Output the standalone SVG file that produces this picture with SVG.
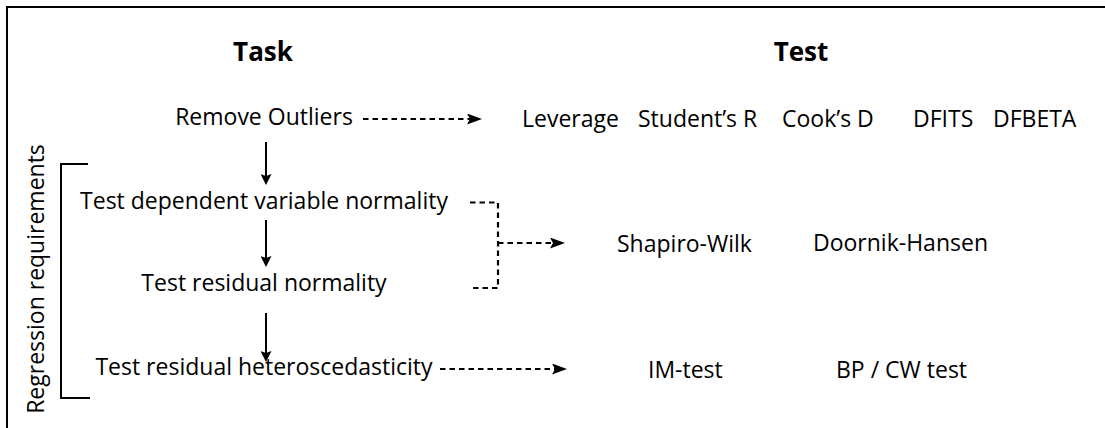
<svg xmlns="http://www.w3.org/2000/svg" width="1105" height="428" viewBox="0 0 1105 428">
<style>
text{font-family:"Open Sans","Liberation Sans",sans-serif;font-size:23px;fill:#000}
.h{font-weight:700;font-size:26px}
.c{text-anchor:middle}
.ln{stroke:#000;stroke-width:2;fill:none}
.ds{stroke-dasharray:5.5 4;stroke-width:2.2}
</style>
<defs>
<marker id="ah" viewBox="0 0 15 11" refX="3" refY="5.5" markerWidth="15" markerHeight="11" markerUnits="userSpaceOnUse" orient="auto"><path d="M0,0 L15,5.5 L0,11 L3,5.5 Z" fill="#000"/></marker>
<marker id="ahs" viewBox="0 0 11 11" refX="2" refY="5.5" markerWidth="11" markerHeight="11" markerUnits="userSpaceOnUse" orient="auto"><path d="M0,0 L11,5.5 L0,11 L2,5.5 Z" fill="#000"/></marker>
</defs>
<rect width="1105" height="428" fill="#fff"/>
<g id="frame"><path class="ln" d="M7,428 V7 H1105" stroke-width="2.4"/></g>
<g id="task-header"><text class="h c" x="263" y="61">Task</text></g>
<g id="test-header"><text class="h c" x="801" y="61">Test</text></g>
<g id="remove-outliers"><text class="c" x="264" y="125">Remove Outliers</text></g>
<g id="outlier-tests">
<text x="522" y="127">Leverage</text>
<text x="638" y="127">Student’s R</text>
<text x="782" y="127">Cook’s D</text>
<text x="913" y="127">DFITS</text>
<text x="993" y="127">DFBETA</text>
</g>
<g id="regression-requirements">
<path class="ln" d="M88,164 H61 V398 H90" stroke-width="1.8"/>
<text class="c" transform="translate(44,279) rotate(-90)">Regression requirements</text>
</g>
<g id="test-dependent"><text class="c" x="264" y="209">Test dependent variable normality</text></g>
<g id="test-residual-normality"><text class="c" x="264" y="291">Test residual normality</text></g>
<g id="test-residual-hetero"><text class="c" x="264" y="375">Test residual heteroscedasticity</text></g>
<g id="normality-tests">
<text x="617" y="252">Shapiro-Wilk</text>
<text x="813" y="251">Doornik-Hansen</text>
</g>
<g id="hetero-tests">
<text x="648" y="378">IM-test</text>
<text x="836" y="378">BP / CW test</text>
</g>
<g id="connectors">
<line class="ln" x1="266" y1="142" x2="266" y2="176" marker-end="url(#ahs)"/>
<line class="ln" x1="266" y1="220" x2="266" y2="258" marker-end="url(#ahs)"/>
<line class="ln" x1="266" y1="313" x2="266" y2="353" marker-end="url(#ahs)"/>
<line class="ln ds" x1="363" y1="119" x2="470" y2="119" marker-end="url(#ah)"/>
<path class="ln ds" d="M470,202.5 H498 V288 H469"/>
<line class="ln ds" x1="498" y1="243" x2="553" y2="243" marker-end="url(#ah)"/>
<line class="ln ds" x1="440" y1="369" x2="555" y2="369" marker-end="url(#ah)"/>
</g>
</svg>
